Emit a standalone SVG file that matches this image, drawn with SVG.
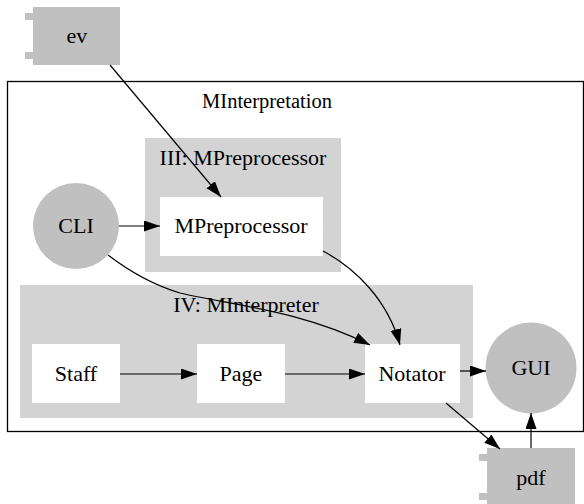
<svg xmlns="http://www.w3.org/2000/svg" width="584" height="504" viewBox="0 0 584 504" font-family="'Liberation Serif', 'Times New Roman', serif">
  <style>
    text { font-family: "Liberation Serif", "Times New Roman", serif; font-size: 22px; fill: #000; text-anchor: middle; }
    .cluster { fill: #d3d3d3; stroke: none; }
    .box { fill: #ffffff; stroke: none; }
    .gray { fill: #c0c0c0; stroke: none; }
    .edge { fill: none; stroke: #000; stroke-width: 1.2; }
  </style>
  <defs>
    <marker id="arrow" markerUnits="userSpaceOnUse" markerWidth="17" markerHeight="12" refX="16" refY="5.5" orient="auto">
      <path d="M0,0 L16,5.5 L0,11 Z" fill="#000"/>
    </marker>
  </defs>

  <rect width="584" height="504" fill="#ffffff"/>

  <!-- outer cluster -->
  <g id="cluster_MInterpretation">
    <rect x="7.5" y="81.5" width="576" height="350" fill="none" stroke="#000" stroke-width="1.3"/>
    <text x="267" y="108" style="font-size:20.5px">MInterpretation</text>
  </g>

  <g id="cluster_MPreprocessor">
    <rect class="cluster" x="145" y="138" width="196" height="134"/>
    <text x="243" y="165">III: MPreprocessor</text>
  </g>

  <g id="cluster_MInterpreter">
    <rect class="cluster" x="20" y="285" width="453" height="133"/>
    <text x="246" y="312">IV: MInterpreter</text>
  </g>

  <!-- nodes -->
  <g id="node_ev">
    <rect class="gray" x="33" y="7" width="87" height="58"/>
    <rect class="gray" x="25" y="13" width="8" height="7"/>
    <rect class="gray" x="25" y="52" width="8" height="7"/>
    <text x="77" y="43">ev</text>
  </g>

  <g id="node_CLI">
    <circle class="gray" cx="76" cy="226" r="43"/>
    <text x="76" y="233">CLI</text>
  </g>

  <g id="node_MPreprocessor">
    <rect class="box" x="160" y="197" width="163" height="59"/>
    <text x="241" y="233">MPreprocessor</text>
  </g>

  <g id="node_Staff">
    <rect class="box" x="32" y="344" width="88" height="59"/>
    <text x="76" y="381">Staff</text>
  </g>

  <g id="node_Page">
    <rect class="box" x="197" y="344" width="88" height="59"/>
    <text x="241" y="381">Page</text>
  </g>

  <g id="node_Notator">
    <rect class="box" x="365" y="344" width="95" height="59"/>
    <text x="412" y="381">Notator</text>
  </g>

  <g id="node_GUI">
    <circle class="gray" cx="531" cy="368" r="45.5"/>
    <text x="531" y="375">GUI</text>
  </g>

  <g id="node_pdf">
    <rect class="gray" x="487" y="448" width="88" height="58"/>
    <rect class="gray" x="479" y="454" width="8" height="7"/>
    <rect class="gray" x="479" y="493" width="8" height="7"/>
    <text x="531" y="485">pdf</text>
  </g>

  <!-- connectors -->
  <g id="edges">
    <path class="edge" marker-end="url(#arrow)" d="M110,65 L221,197"/>
    <path class="edge" marker-end="url(#arrow)" d="M119,226 L160,226"/>
    <path class="edge" marker-end="url(#arrow)" d="M108,255 C125,268 150,284 180,293 C230,305 300,310 370,345"/>
    <path class="edge" marker-end="url(#arrow)" d="M323,251 C355,268 388,300 400,345"/>
    <path class="edge" marker-end="url(#arrow)" d="M120,374 L197,374"/>
    <path class="edge" marker-end="url(#arrow)" d="M285,374 L365,374"/>
    <path class="edge" marker-end="url(#arrow)" d="M460,371 L486,371"/>
    <path class="edge" marker-end="url(#arrow)" d="M446,403 L500,449"/>
    <path class="edge" marker-end="url(#arrow)" d="M531,448 L531,413"/>
  </g>
</svg>
